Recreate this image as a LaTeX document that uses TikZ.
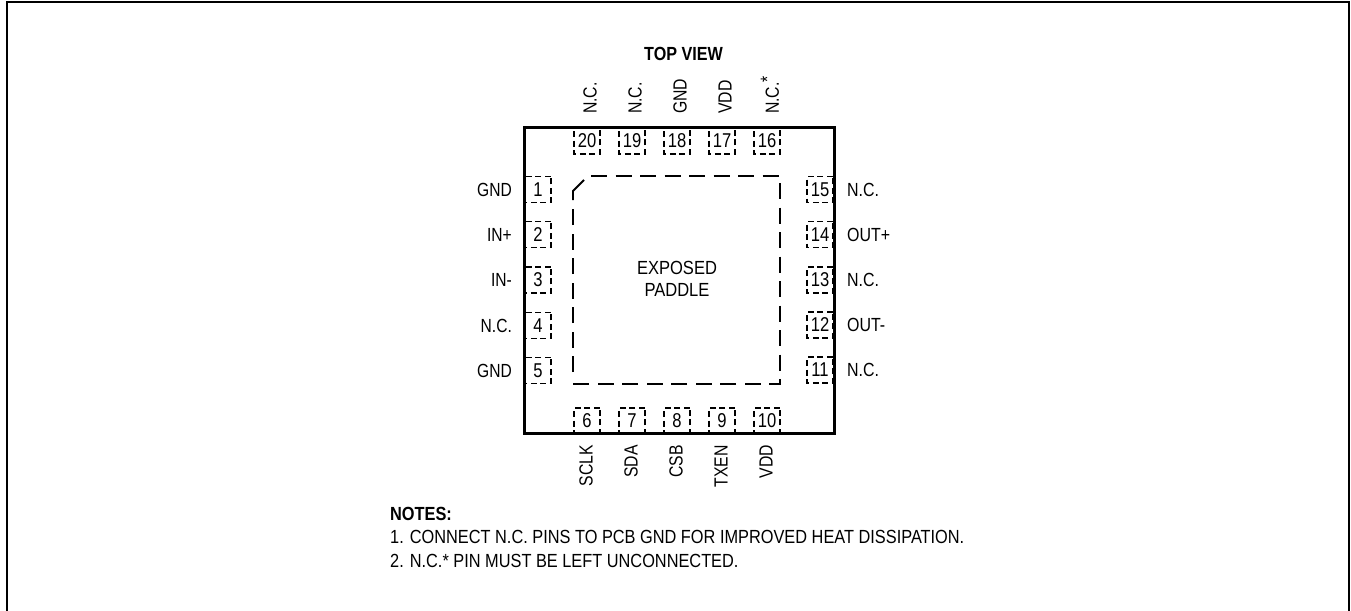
\documentclass[tikz,border=0pt]{standalone}
\usepackage{fontspec}
\setmainfont{Liberation Sans}
\usetikzlibrary{positioning}
\tikzset{
	pinbox/.style={draw=black,line width=1.8pt,dash pattern=on 6pt off 3.5pt,minimum width=30.6pt,minimum height=26pt,inner sep=0pt,font=\fontsize{20}{22}\selectfont,xscale=0.83},
	pinlabel/.style={inner sep=0pt,font=\fontsize{19}{22}\selectfont},
	notetext/.style={inner sep=0pt,anchor=west,font=\fontsize{19}{22}\selectfont,xscale=0.86},
}
\begin{document}
\begin{tikzpicture}[x=1pt,y=-1pt]
	\useasboundingbox (0,0) rectangle (1351,610);
	\coordinate (frameA) at (7,640);
	\coordinate (frameB) at (7,2);
	\coordinate (frameC) at (1349,2);
	\coordinate (frameD) at (1349,640);
	\draw[line width=2pt] (frameA) -- (frameB) -- (frameC) -- (frameD);

	\begin{scope}[every node/.style={pinbox}]
		\node (pin1) at (538,189.5) {1};
		\node (pin2) at (538,234.5) {2};
		\node (pin3) at (538,280) {3};
		\node (pin4) at (538,325.5) {4};
		\node (pin5) at (538,370.5) {5};
		\node (pin6) at (587,421) {6};
		\node (pin7) at (632,421) {7};
		\node (pin8) at (677,421) {8};
		\node (pin9) at (722,421) {9};
		\node (pin10) at (767,421) {10};
		\node (pin11) at (820,370) {11};
		\node (pin12) at (820,325) {12};
		\node (pin13) at (820,280) {13};
		\node (pin14) at (820,234.5) {14};
		\node (pin15) at (820,189.5) {15};
		\node (pin16) at (767,141) {16};
		\node (pin17) at (722,141) {17};
		\node (pin18) at (677,141) {18};
		\node (pin19) at (632,141) {19};
		\node (pin20) at (587,141) {20};
	\end{scope}

	\node[draw=black,line width=3pt,minimum width=310pt,minimum height=306pt,inner sep=0pt] (package) at (679.4,280.6) {};

	% paddle outline with the cut corner
	\coordinate (padA) at (573,200);
	\coordinate (padB) at (573,191);
	\coordinate (padC) at (584,180);
	\coordinate (padD) at (591,176);
	\coordinate (padE) at (780,176);
	\coordinate (padF) at (780,384);
	\coordinate (padG) at (573,384);
	\coordinate (padH) at (573,372);
	\coordinate (padI) at (573,209);
	\draw[line width=1.8pt] (padA) -- (padB) -- (padC);
	\draw[line width=1.8pt,dash pattern=on 16pt off 8.5pt] (padD) -- (padE) -- (padF) -- (padG);
	\draw[line width=1.8pt,dash pattern=on 16pt off 8.5pt] (padH) -- (padI);
	\node[pinlabel,align=center,xscale=0.87] (paddle) at (677,278.5) {EXPOSED\\[0pt]PADDLE};

	\begin{scope}[every node/.style={pinlabel,anchor=east,xscale=0.82}]
		\node (gnd1) at (512,189.5) {GND};
		\node (inp) at (512,234.5) {IN+};
		\node (inm) at (512,280) {IN-};
		\node (nc4) at (512,325.5) {N.C.};
		\node (gnd5) at (512,370.5) {GND};
	\end{scope}

	\begin{scope}[every node/.style={pinlabel,anchor=west,xscale=0.84}]
		\node (nc15) at (847,189.5) {N.C.};
		\node (outp) at (847,234.5) {OUT+};
		\node (nc13) at (847,280) {N.C.};
		\node (outm) at (847,325) {OUT-};
		\node (nc11) at (847,370) {N.C.};
	\end{scope}

	\begin{scope}[every node/.style={pinlabel,rotate=90,anchor=east,xscale=0.83}]
		\node (sclk) at (586,445) {SCLK};
		\node (sda) at (631,445) {SDA};
		\node (csb) at (676,445) {CSB};
		\node (txen) at (721,445) {TXEN};
		\node (vdd10) at (766,445) {VDD};
	\end{scope}

	\begin{scope}[every node/.style={pinlabel,rotate=90,anchor=west,xscale=0.83}]
		\node (nc20) at (590,114) {N.C.};
		\node (nc19) at (635,114) {N.C.};
		\node (gnd18) at (680,114) {GND};
		\node (vdd17) at (725,114) {VDD};
		\node (nc16) at (770,114) {N.C.\raisebox{5pt}{*}};
	\end{scope}

	\node[pinlabel,xscale=0.85] (topview) at (683.5,53.5) {\bfseries TOP VIEW};

	\node[notetext] (notes) at (390,514) {\bfseries NOTES:};
	\node[notetext] (note1) at (390,537) {1. CONNECT N.C. PINS TO PCB GND FOR IMPROVED HEAT DISSIPATION.};
	\node[notetext] (note2) at (390,561) {2. N.C.* PIN MUST BE LEFT UNCONNECTED.};
\end{tikzpicture}
\end{document}
